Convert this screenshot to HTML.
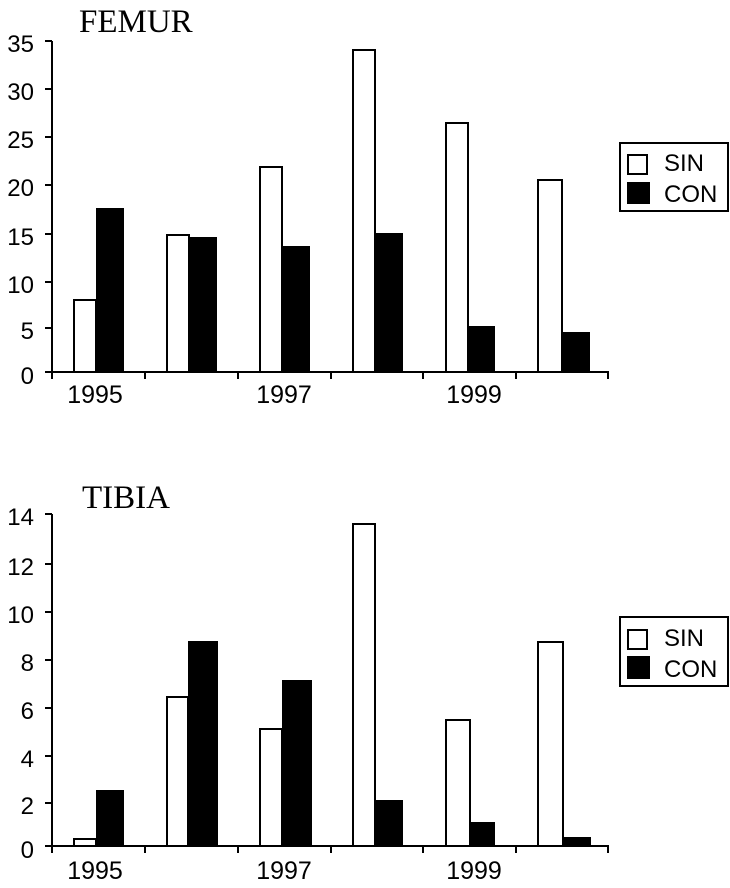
<!DOCTYPE html>
<html><head><meta charset="utf-8"><style>
html,body{margin:0;padding:0;background:#fff;}
svg{display:block;}
.t{font-family:"Liberation Sans",sans-serif;font-size:24px;fill:#000;}
.y{font-family:"Liberation Sans",sans-serif;font-size:25px;fill:#000;}
.ti{font-family:"Liberation Serif",serif;font-size:33px;fill:#000;}
</style></head><body>
<svg width="730" height="888" viewBox="0 0 730 888" xmlns="http://www.w3.org/2000/svg">
<rect width="730" height="888" fill="#fff"/>
<!-- FEMUR -->
<text class="ti" x="79" y="32">FEMUR</text>
<g stroke="#000" stroke-width="2" fill="none">
<line x1="52" y1="41" x2="52" y2="373"/>
<line x1="51" y1="372" x2="609" y2="372"/>
<line x1="45" y1="41" x2="52" y2="41"/>
<line x1="45" y1="89" x2="52" y2="89"/>
<line x1="45" y1="137" x2="52" y2="137"/>
<line x1="45" y1="185" x2="52" y2="185"/>
<line x1="45" y1="234" x2="52" y2="234"/>
<line x1="45" y1="282" x2="52" y2="282"/>
<line x1="45" y1="328" x2="52" y2="328"/>
<line x1="45" y1="372" x2="52" y2="372"/>
<line x1="52" y1="372" x2="52" y2="379"/>
<line x1="145" y1="372" x2="145" y2="379"/>
<line x1="238" y1="372" x2="238" y2="379"/>
<line x1="331" y1="372" x2="331" y2="379"/>
<line x1="423" y1="372" x2="423" y2="379"/>
<line x1="516" y1="372" x2="516" y2="379"/>
<line x1="608" y1="372" x2="608" y2="379"/>
</g>
<g class="t" text-anchor="end">
<text x="34" y="52">35</text>
<text x="34" y="100">30</text>
<text x="34" y="148">25</text>
<text x="34" y="196">20</text>
<text x="34" y="245">15</text>
<text x="34" y="293">10</text>
<text x="34" y="339">5</text>
<text x="34" y="384">0</text>
</g>
<g class="y" text-anchor="middle">
<text x="95" y="403">1995</text>
<text x="284" y="403">1997</text>
<text x="474" y="403">1999</text>
</g>
<g stroke="#000" stroke-width="2">
<rect x="74" y="300" width="22" height="72" fill="#fff"/>
<rect x="97" y="209" width="26" height="163" fill="#000"/>
<rect x="167" y="235" width="22" height="137" fill="#fff"/>
<rect x="190" y="238" width="26" height="134" fill="#000"/>
<rect x="260" y="167" width="22" height="205" fill="#fff"/>
<rect x="283" y="247" width="26" height="125" fill="#000"/>
<rect x="353" y="50" width="22" height="322" fill="#fff"/>
<rect x="376" y="234" width="26" height="138" fill="#000"/>
<rect x="446" y="123" width="22" height="249" fill="#fff"/>
<rect x="469" y="327" width="25" height="45" fill="#000"/>
<rect x="538" y="180" width="24" height="192" fill="#fff"/>
<rect x="563" y="333" width="26" height="39" fill="#000"/>
</g>
<rect x="620" y="143" width="108" height="68" fill="#fff" stroke="#000" stroke-width="2"/>
<rect x="628" y="155" width="19" height="19" fill="#fff" stroke="#000" stroke-width="2"/>
<rect x="627" y="182" width="23" height="22" fill="#000"/>
<text class="t" x="664" y="171">SIN</text>
<text class="t" x="664" y="202">CON</text>

<!-- TIBIA -->
<text class="ti" x="82" y="508">TIBIA</text>
<g stroke="#000" stroke-width="2" fill="none">
<line x1="52" y1="514" x2="52" y2="847"/>
<line x1="51" y1="846" x2="609" y2="846"/>
<line x1="45" y1="514" x2="52" y2="514"/>
<line x1="45" y1="564" x2="52" y2="564"/>
<line x1="45" y1="612" x2="52" y2="612"/>
<line x1="45" y1="660" x2="52" y2="660"/>
<line x1="45" y1="708" x2="52" y2="708"/>
<line x1="45" y1="756" x2="52" y2="756"/>
<line x1="45" y1="803" x2="52" y2="803"/>
<line x1="45" y1="846" x2="52" y2="846"/>
<line x1="52" y1="846" x2="52" y2="853"/>
<line x1="145" y1="846" x2="145" y2="853"/>
<line x1="238" y1="846" x2="238" y2="853"/>
<line x1="331" y1="846" x2="331" y2="853"/>
<line x1="423" y1="846" x2="423" y2="853"/>
<line x1="516" y1="846" x2="516" y2="853"/>
<line x1="608" y1="846" x2="608" y2="853"/>
</g>
<g class="t" text-anchor="end">
<text x="34" y="525">14</text>
<text x="34" y="575">12</text>
<text x="34" y="623">10</text>
<text x="34" y="671">8</text>
<text x="34" y="719">6</text>
<text x="34" y="767">4</text>
<text x="34" y="814">2</text>
<text x="34" y="858">0</text>
</g>
<g class="y" text-anchor="middle">
<text x="95" y="879">1995</text>
<text x="284" y="879">1997</text>
<text x="474" y="879">1999</text>
</g>
<g stroke="#000" stroke-width="2">
<rect x="74" y="839" width="22" height="7" fill="#fff"/>
<rect x="97" y="791" width="26" height="55" fill="#000"/>
<rect x="167" y="697" width="21" height="149" fill="#fff"/>
<rect x="189" y="642" width="28" height="204" fill="#000"/>
<rect x="260" y="729" width="22" height="117" fill="#fff"/>
<rect x="283" y="681" width="28" height="165" fill="#000"/>
<rect x="353" y="524" width="22" height="322" fill="#fff"/>
<rect x="376" y="801" width="26" height="45" fill="#000"/>
<rect x="446" y="720" width="24" height="126" fill="#fff"/>
<rect x="471" y="823" width="23" height="23" fill="#000"/>
<rect x="538" y="642" width="25" height="204" fill="#fff"/>
<rect x="564" y="838" width="26" height="8" fill="#000"/>
</g>
<rect x="620" y="617" width="108" height="69" fill="#fff" stroke="#000" stroke-width="2"/>
<rect x="628" y="630" width="19" height="19" fill="#fff" stroke="#000" stroke-width="2"/>
<rect x="627" y="656" width="23" height="23" fill="#000"/>
<text class="t" x="664" y="646">SIN</text>
<text class="t" x="664" y="677">CON</text>
</svg>
</body></html>
